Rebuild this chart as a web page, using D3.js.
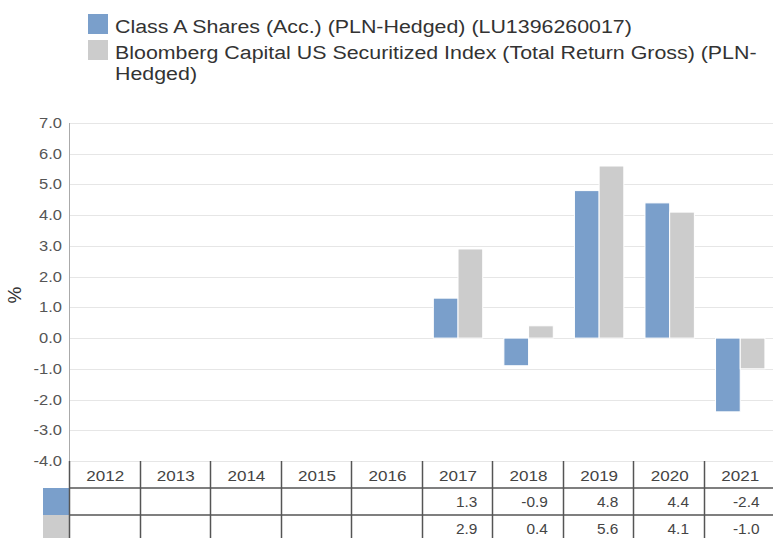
<!DOCTYPE html>
<html>
<head>
<meta charset="utf-8">
<script src="https://cdn.jsdelivr.net/npm/d3@7"></script>
<style>
  body { margin: 0; background: #fff; }
  svg { display: block; font-family: "Liberation Sans", Arial, sans-serif; }
</style>
</head>
<body>
<div id="chart"></div>
<script>
const years = ["2012", "2013", "2014", "2015", "2016", "2017", "2018", "2019", "2020", "2021"]
const legendLines = [
    ["Class A Shares (Acc.) (PLN-Hedged) (LU1396260017)"],
    ["Bloomberg Capital US Securitized Index (Total Return Gross) (PLN-", "Hedged)"]
]
const fundValues = [null, null, null, null, null, 1.3, -0.9, 4.8, 4.4, -2.4]
const indexValues = [null, null, null, null, null, 2.9, 0.4, 5.6, 4.1, -1.0]
const yTicks = [7, 6, 5, 4, 3, 2, 1, 0, -1, -2, -3, -4]
const colors = ["#7a9fcb", "#cccccc"]

const width = 773, height = 538
const margin = { top: 123, left: 70, right: -2.5, bottom: 77 }
const rowH = 27
const sx = 1.1 // el texto del original es algo más ancho que Arial

// formato con guion simple en lugar del signo menos
const fmt = d3.formatLocale({ decimal: ".", thousands: ",", grouping: [3], currency: ["", ""], minus: "-" }).format(".1f")

const svg = d3.select("#chart").append("svg")
    .attr("width", width)
    .attr("height", height)

// texto con ligero estiramiento horizontal
function label(parent, px, py, txt, opts = {}) {
    return parent.append("text")
        .attr("transform", `translate(${px},${py}) scale(${opts.sx || sx},1)`)
        .attr("text-anchor", opts.anchor || "start")
        .attr("font-size", opts.size || 14)
        .attr("fill", opts.fill || "#333")
        .text(txt)
}

// escalas
const x = d3.scaleBand()
    .domain(years)
    .range([margin.left, width - margin.right])
    .padding(0)

const x1 = d3.scaleBand()
    .domain([0, 1])
    .range([x.bandwidth() * 0.15, x.bandwidth() * 0.85])
    .padding(0)

const y = d3.scaleLinear()
    .domain([-4, 7])
    .range([height - margin.bottom, margin.top])

// grid
svg.append("g")
    .selectAll("line")
    .data(yTicks)
    .join("line")
    .attr("x1", margin.left)
    .attr("x2", width)
    .attr("y1", d => Math.round(y(d)) + 0.5)
    .attr("y2", d => Math.round(y(d)) + 0.5)
    .attr("stroke", "#e6e6e6")

// eje y
svg.append("line")
    .attr("x1", margin.left - 0.5)
    .attr("x2", margin.left - 0.5)
    .attr("y1", y(7))
    .attr("y2", y(-4))
    .attr("stroke", "#aaaaaa")

const yAxis = svg.append("g")
yTicks.forEach(t => {
    label(yAxis, margin.left - 8, y(t) + 5, fmt(t), { anchor: "end", size: 15, fill: "#555" })
})

svg.append("text")
    .attr("transform", `translate(21,${y(1.4)}) rotate(-90)`)
    .attr("text-anchor", "middle")
    .attr("font-size", 19)
    .attr("fill", "#333")
    .text("%")

// barras
const series = [fundValues, indexValues]
series.forEach((vals, si) => {
    svg.append("g")
        .selectAll("rect")
        .data(years.map((yr, i) => ({ yr, v: vals[i] })).filter(d => d.v !== null))
        .join("rect")
        .attr("x", d => x(d.yr) + x1(si))
        .attr("width", x1.bandwidth())
        .attr("y", d => y(Math.max(0, d.v)))
        .attr("height", d => Math.abs(y(d.v) - y(0)))
        .attr("fill", colors[si])
        .attr("stroke", "#fff")
        .attr("stroke-width", 1)
})

// tabla
const tableTop = y(-4)
const table = svg.append("g")

years.forEach(yr => {
    label(table, x(yr) + x.bandwidth() / 2, tableTop + rowH / 2 + 6, yr, { anchor: "middle", size: 15.5, fill: "#444" })
})

series.forEach((vals, si) => {
    const rowY = tableTop + rowH * (si + 1)
    table.append("rect")
        .attr("x", 43)
        .attr("y", rowY)
        .attr("width", margin.left - 43)
        .attr("height", rowH)
        .attr("fill", colors[si])
    years.forEach((yr, i) => {
        if (vals[i] === null) return
        label(table, x(yr) + x.bandwidth() - 16, rowY + rowH / 2 + 5, fmt(vals[i]), { anchor: "end", size: 14, fill: "#444" })
    })
})

// líneas de la tabla
;[1, 2].forEach(r => {
    table.append("line")
        .attr("x1", margin.left - 1)
        .attr("x2", width)
        .attr("y1", Math.round(tableTop + rowH * r))
        .attr("y2", Math.round(tableTop + rowH * r))
        .attr("stroke", "#555")
        .attr("stroke-width", 1.5)
})
table.selectAll(".vline")
    .data(years)
    .join("line")
    .attr("class", "vline")
    .attr("x1", d => Math.round(x(d)) - 0.5)
    .attr("x2", d => Math.round(x(d)) - 0.5)
    .attr("y1", tableTop)
    .attr("y2", height)
    .attr("stroke", "#555")
    .attr("stroke-width", 1.5)

// leyenda
const legend = svg.append("g")
let ly = 14
legendLines.forEach((lines, i) => {
    legend.append("rect")
        .attr("x", 88)
        .attr("y", ly)
        .attr("width", 20)
        .attr("height", 20)
        .attr("fill", colors[i])
    lines.forEach((ln, j) => {
        label(legend, 115, ly + 19 + j * 21, ln, { size: 18.6, sx: 1.15 })
    })
    ly += 26
})
</script>
</body>
</html>
